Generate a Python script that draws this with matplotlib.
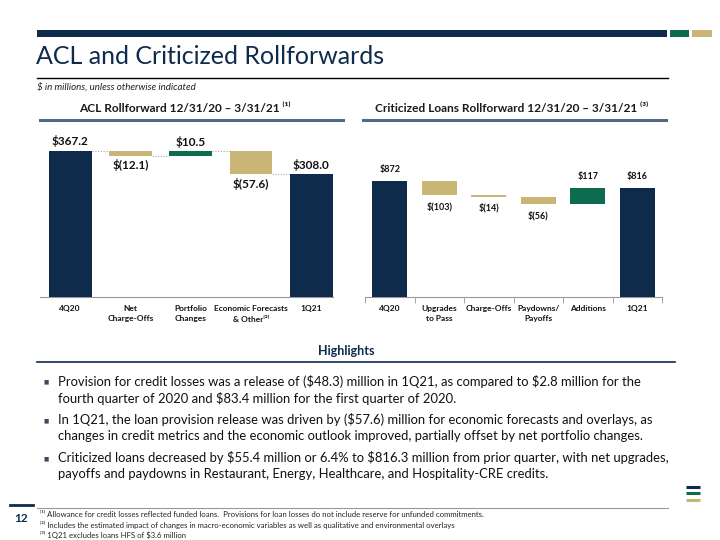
import numpy as np
import matplotlib
matplotlib.use("Agg")
import matplotlib.pyplot as plt
from matplotlib.patches import Rectangle

plt.rcParams['font.family'] = ['Lato', 'DejaVu Sans']
plt.rcParams['text.parse_math'] = False

NAVY = '#0e2b4c'
GREEN = '#0d6b50'
GOLD = '#c9b677'
SLATE = '#536a83'

# ACL rollforward
acl_cats = ['4Q20', 'Net\nCharge-Offs', 'Portfolio\nChanges', 'Economic Forecasts\n& Other⁽²⁾', '1Q21']
acl_start = 367.2
acl_changes = [-12.1, 10.5, -57.6]
acl_end = 308.0
acl_labels = ['$367.2', '$(12.1)', '$10.5', '$(57.6)', '$308.0']

# Criticized loans rollforward
crit_cats = ['4Q20', 'Upgrades\nto Pass', 'Charge-Offs', 'Paydowns/\nPayoffs', 'Additions', '1Q21']
crit_start = 872
crit_changes = [-103, -14, -56, 117]
crit_end = 816
crit_labels = ['$872', '$(103)', '$(14)', '$(56)', '$117', '$816']

bullets = [
    "Provision for credit losses was a release of ($48.3) million in 1Q21, as compared to $2.8 million for the\nfourth quarter of 2020 and $83.4 million for the first quarter of 2020.",
    "In 1Q21, the loan provision release was driven by ($57.6) million for economic forecasts and overlays, as\nchanges in credit metrics and the economic outlook improved, partially offset by net portfolio changes.",
    "Criticized loans decreased by $55.4 million or 6.4% to $816.3 million from prior quarter, with net upgrades,\npayoffs and paydowns in Restaurant, Energy, Healthcare, and Hospitality-CRE credits.",
]
footnotes = [
    "⁽¹⁾ Allowance for credit losses reflected funded loans.  Provisions for loan losses do not include reserve for unfunded commitments.",
    "⁽²⁾ Includes the estimated impact of changes in macro-economic variables as well as qualitative and environmental overlays",
    "⁽³⁾ 1Q21 excludes loans HFS of $3.6 million",
]

W, H = 720, 540
fig = plt.figure(figsize=(7.2, 5.4), dpi=100)
bg = fig.add_axes([0, 0, 1, 1])
bg.set_xlim(0, W)
bg.set_ylim(H, 0)
bg.axis('off')

# header decoration
bg.add_patch(Rectangle((37, 30), 630, 7, color=NAVY, lw=0))
bg.add_patch(Rectangle((670, 30), 19, 7, color=GREEN, lw=0))
bg.add_patch(Rectangle((692, 30), 20, 7, color=GOLD, lw=0))
bg.text(36, 57, 'ACL and Criticized Rollforwards', fontsize=18, color=NAVY,
        va='center', ha='left')
bg.plot([37, 668], [78, 78], color='black', lw=1)
bg.text(37, 87, '$ in millions, unless otherwise indicated', fontsize=7,
        style='italic', color='#222222', va='center')

bg.text(185, 108, 'ACL Rollforward 12/31/20 – 3/31/21 ⁽¹⁾', fontsize=8.6, fontweight='bold',
        color='#1a1a1a', ha='center', va='center')
bg.plot([40, 343], [120, 120], color=SLATE, lw=2.2)
bg.text(512, 108, 'Criticized Loans Rollforward 12/31/20 – 3/31/21 ⁽³⁾', fontsize=8.6,
        fontweight='bold', color='#1a1a1a', ha='center', va='center')
bg.plot([363, 666], [120, 120], color=SLATE, lw=2.2)

# highlights
bg.text(346, 351, 'Highlights', fontsize=9, fontweight='bold', color=NAVY,
        ha='center', va='center')
bg.plot([37, 675], [362, 362], color=NAVY, lw=1.2)
for i, b in enumerate(bullets):
    y = 382 + i * 38.5
    bg.text(43, y, '■', fontsize=4, color='#3b4a5c', va='center', ha='left')
    bg.text(58, y - 7.5, b, fontsize=9.4, color='#111111', va='top', ha='left',
            linespacing=1.4)

# footer
bg.plot([10, 33], [505, 505], color=NAVY, lw=2)
bg.text(14, 518, '12', fontsize=8.5, fontweight='bold', color=NAVY, va='center')
bg.plot([37, 668], [508, 508], color='#999999', lw=0.8)
for i, f in enumerate(footnotes):
    bg.text(40, 514 + i * 10.5, f, fontsize=5.6, color='#222222', va='center')
for y, c in zip([487, 493, 500], [NAVY, GREEN, GOLD]):
    bg.plot([686, 700], [y, y], color=c, lw=2.2, solid_capstyle='butt')


def waterfall(ax, start, changes, end, labels, cats, width, fs, tick_fs, conn, gap):
    n = len(changes) + 2
    x = np.arange(n)
    bottoms, heights, colors = [0], [start], [NAVY]
    level = start
    for c in changes:
        lo = level + min(c, 0)
        bottoms.append(lo)
        heights.append(abs(c))
        colors.append(GREEN if c > 0 else GOLD)
        level += c
    bottoms.append(0)
    heights.append(end)
    colors.append(NAVY)
    ax.bar(x, heights, width, bottom=bottoms, color=colors, zorder=3)
    if conn:
        tops = [start]
        lv = start
        for c in changes:
            lv += c
            tops.append(lv)
        for i in range(n - 1):
            ax.plot([x[i] + width / 2, x[i + 1] - width / 2], [tops[i], tops[i]],
                    ls=(0, (1, 1.5)), color='#aaaaaa', lw=0.8, zorder=2)
    # labels
    for i in range(n):
        if i == 0 or i == n - 1 or changes[i - 1] > 0:
            ax.annotate(labels[i], (x[i], bottoms[i] + heights[i]), xytext=(0, gap),
                        textcoords='offset points', ha='center', va='bottom',
                        fontsize=fs, fontweight='bold', color='#111111')
        else:
            ax.annotate(labels[i], (x[i], bottoms[i]), xytext=(0, -gap),
                        textcoords='offset points', ha='center', va='top',
                        fontsize=fs, fontweight='bold', color='#111111')
    ax.set_xticks(x)
    ax.set_xticklabels(cats, fontsize=tick_fs, fontweight='bold', color='#111111',
                       linespacing=1.5)
    for s in ['top', 'right', 'left']:
        ax.spines[s].set_visible(False)
    ax.spines['bottom'].set_color('#999999')
    ax.set_yticks([])
    ax.patch.set_alpha(0)


def px_axes(x0, x1, y0, y1):
    return fig.add_axes([x0 / W, 1 - y1 / H, (x1 - x0) / W, (y1 - y0) / H])


ax1 = px_axes(40, 333, 130, 297)
waterfall(ax1, acl_start, acl_changes, acl_end, acl_labels, acl_cats, 0.71, 8.5, 6, True, 2.5)
ax1.set_xlim(-0.5, 4.36)
ax1.set_ylim(0, 167 / 0.398)
ax1.tick_params(axis='x', length=0, pad=6)

ax2 = px_axes(365, 662, 130, 296.7)
waterfall(ax2, crit_start, crit_changes, crit_end, crit_labels, crit_cats, 0.71, 6.5, 6, False, 5)
ax2.set_xlim(-0.5, 5.5)
ax2.set_ylim(0, 166.7 / 0.1327)
ax2.set_xticks(np.arange(-0.5, 6), minor=True)
ax2.tick_params(axis='x', which='major', length=0, pad=6)
ax2.tick_params(axis='x', which='minor', length=4, color='#999999', direction='out')

fig.savefig('out.png', dpi=100)
